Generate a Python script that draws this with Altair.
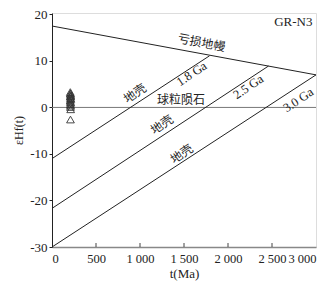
import altair as alt
import pandas as pd

# ---- data ----
mantle_t = [0, 3000]
mantle_e = [17.5, 7.0]

chondrite_t = [0, 3000]
chondrite_e = [0, 0]

crust_names = ["1.8 Ga", "2.5 Ga", "3.0 Ga"]
crust_t0 = [0, 0, 0]
crust_e0 = [-11.0, -21.7, -30.0]
crust_t1 = [1790, 2460, 3000]
crust_e1 = [11.1, 8.9, 7.0]

sample_t = [208, 210, 212, 209, 211, 213, 207, 210, 212, 209, 211, 210, 212, 210, 209, 211]
sample_e = [3.3, 2.9, 2.6, 2.3, 2.0, 1.8, 1.5, 1.2, 1.0, 0.7, 0.4, 0.1, -0.4, -2.6, 3.0, 2.4]

cn_text = ["亏损地幔", "球粒陨石", "地壳", "地壳", "地壳"]
cn_t = [1700, 1466, 943, 1250, 1474]
cn_e = [13.9, 1.6, 3.0, -3.7, -10.0]
cn_angle = [10.7, 0, 326, 326, 326]

age_text = ["1.8 Ga", "2.5 Ga", "3.0 Ga"]
age_t = [1587, 2231, 2799]
age_e = [7.2, 4.4, 1.6]
age_angle = [326, 326, 326]

x_ticks = [0, 500, 1000, 1500, 2000, 2500, 3000]
y_ticks = [-30, -20, -10, 0, 10, 20]

# ---- tables ----
rows = []
for t, e in zip(mantle_t, mantle_e):
    rows.append({"t": t, "e": e, "s": "mantle"})
for t, e in zip(chondrite_t, chondrite_e):
    rows.append({"t": t, "e": e, "s": "chondrite"})
for n, a, b, c, d in zip(crust_names, crust_t0, crust_e0, crust_t1, crust_e1):
    rows.append({"t": a, "e": b, "s": n})
    rows.append({"t": c, "e": d, "s": n})
lines_df = pd.DataFrame(rows)
lines_df["col"] = lines_df["s"].map(lambda s: "#777777" if s == "chondrite" else "#222222")

samples_df = pd.DataFrame({"t": sample_t, "e": sample_e})
cn_df = pd.DataFrame({"text": cn_text, "t": cn_t, "e": cn_e, "angle": cn_angle})
age_df = pd.DataFrame({"text": age_text, "t": age_t, "e": age_e, "angle": age_angle})
ticks_df = pd.DataFrame({"t": x_ticks[1:-1]})

W, H = 264, 234
xs = alt.Scale(domain=[0, 3000], nice=False)
ys = alt.Scale(domain=[-30, 20.3], nice=False)

xaxis = alt.Axis(values=x_ticks, ticks=False, grid=False, domainColor="#888888", domainWidth=1.5,
                 labelExpr="replace(format(datum.value, ','), ',', ' ')",
                 labelFont="Liberation Serif", labelFontSize=12.5, labelColor="#222222",
                 labelPadding=5, title="t(Ma)", titleFont="Liberation Serif",
                 titleFontSize=13, titleFontWeight="normal", titleColor="#222222", titlePadding=3)
yaxis = alt.Axis(values=y_ticks, grid=False, tickSize=3, tickColor="#222222", domainColor="#222222",
                 labelExpr="'' + datum.value",
                 labelFont="Liberation Serif", labelFontSize=13, labelColor="#222222",
                 labelPadding=2, title="εHf(t)", titleFont="Liberation Serif",
                 titleFontSize=12, titleFontWeight="normal", titleColor="#222222", titlePadding=4)

lines = alt.Chart(lines_df).mark_line(strokeWidth=1).encode(
    x=alt.X("t:Q", scale=xs, axis=xaxis),
    y=alt.Y("e:Q", scale=ys, axis=yaxis),
    detail="s:N",
    color=alt.Color("col:N", scale=None),
)

xt = alt.Chart(ticks_df).mark_rule(color="#444444", strokeWidth=1).encode(
    x=alt.X("t:Q", scale=xs),
    y=alt.value(H),
    y2=alt.value(H - 4),
)

pts = alt.Chart(samples_df).mark_point(shape="triangle-up", filled=False, color="#333333",
                                       strokeWidth=0.9, size=60, opacity=1).encode(
    x=alt.X("t:Q", scale=xs),
    y=alt.Y("e:Q", scale=ys),
)

cn_labels = alt.Chart(cn_df).mark_text(font="Noto Sans CJK SC", fontSize=12, color="#222222").encode(
    x=alt.X("t:Q", scale=xs),
    y=alt.Y("e:Q", scale=ys),
    text="text:N",
    angle=alt.Angle("angle:Q", scale=None),
)

age_labels = alt.Chart(age_df).mark_text(font="Liberation Serif", fontSize=12.5, color="#222222").encode(
    x=alt.X("t:Q", scale=xs),
    y=alt.Y("e:Q", scale=ys),
    text="text:N",
    angle=alt.Angle("angle:Q", scale=None),
)

tag = alt.Chart(pd.DataFrame({"text": ["GR-N3"], "t": [2960], "e": [18.4]})).mark_text(
    font="Liberation Serif", fontSize=13, color="#222222", align="right").encode(
    x=alt.X("t:Q", scale=xs), y=alt.Y("e:Q", scale=ys), text="text:N")

chart = alt.layer(lines, xt, pts, cn_labels, age_labels, tag).properties(
    width=W, height=H,
    autosize=alt.AutoSizeParams(type="none"),
    padding={"left": 44, "top": 5, "right": 11, "bottom": 35},
).configure_view(stroke="#222222", strokeWidth=1).configure(background="white")

chart.save("out.html", embed_options={"renderer": "svg", "actions": False})
